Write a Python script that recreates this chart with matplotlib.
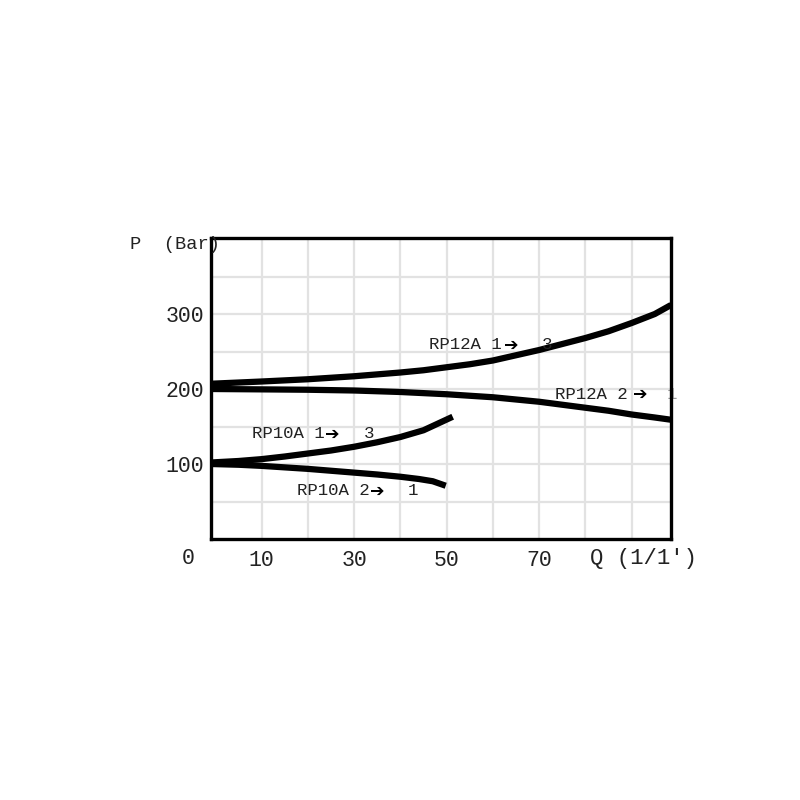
import matplotlib
matplotlib.use("Agg")
import matplotlib.pyplot as plt
import matplotlib.transforms as mtransforms

# Data
rp12a_13_x = [-1, 10, 20, 30, 40, 45, 50, 55, 60, 65, 70, 75, 80, 85, 90, 95, 98.5]
rp12a_13_y = [207, 210, 213, 217, 222, 225, 229, 233, 238, 245, 252, 260, 268, 277, 288, 300, 312]

rp12a_21_x = [-1, 10, 20, 30, 40, 50, 55, 60, 65, 70, 75, 80, 85, 90, 95, 98.5]
rp12a_21_y = [200, 199.5, 199, 198, 196, 193, 191, 189, 186, 183, 179, 175, 171, 166, 162, 159]

rp10a_13_x = [-1, 5, 10, 15, 20, 25, 30, 35, 40, 45, 51.3]
rp10a_13_y = [102, 104, 106.5, 110, 114, 118, 123, 129, 136, 145, 163]

rp10a_21_x = [-1, 5, 10, 15, 20, 25, 30, 35, 40, 44, 47, 49.8]
rp10a_21_y = [100, 99, 97.5, 95.5, 93.5, 91, 88.5, 86, 83, 80, 77, 71]

x_ticks = [10, 30, 50, 70]
x_tick_labels = ["10", "30", "50", "70"]
y_ticks = [100, 200, 300]
y_tick_labels = ["100", "200", "300"]
x_grid = [10, 20, 30, 40, 50, 60, 70, 80, 90]
y_grid = [50, 100, 150, 200, 250, 300, 350]

MONO = ["Liberation Mono", "DejaVu Sans Mono", "DejaVu Sans"]
ARROWF = ["DejaVu Sans"]
TXT = "#222222"

fig = plt.figure(figsize=(8, 8), dpi=100)
ax = fig.add_axes([211 / 800, 1 - 539 / 800, 460 / 800, (539 - 237.5) / 800])
ax.set_xlim(-0.95, 98.5)
ax.set_ylim(0, 402)

for gx in x_grid:
    ax.axvline(gx, color="#e2e2e2", lw=1.6, zorder=0)
for gy in y_grid:
    ax.axhline(gy, color="#e2e2e2", lw=1.6, zorder=0)

lw = 4.5
for xs, ys in [(rp12a_13_x, rp12a_13_y), (rp12a_21_x, rp12a_21_y),
               (rp10a_13_x, rp10a_13_y), (rp10a_21_x, rp10a_21_y)]:
    ax.plot(xs, ys, color="black", lw=lw, solid_capstyle="butt",
            solid_joinstyle="round", zorder=3)

for s in ax.spines.values():
    s.set_linewidth(2.4)
    s.set_color("black")
    s.set_zorder(5)

tfs = 15.5
ax.set_xticks(x_ticks)
ax.set_xticklabels(x_tick_labels, family=MONO, fontsize=tfs, color=TXT)
ax.set_yticks(y_ticks)
ax.set_yticklabels(y_tick_labels, family=MONO, fontsize=tfs, color=TXT)
ax.tick_params(length=0, pad=5)
ax.tick_params(axis="x", pad=8)

trans = mtransforms.blended_transform_factory(ax.transData, ax.transAxes)
ax.text(-5.9, -0.065, "0", transform=trans, family=MONO, fontsize=tfs,
        color=TXT, ha="center", va="center", clip_on=False)
ax.text(80.9, -0.065, "Q (1/1')", transform=trans, family=MONO, fontsize=16,
        color=TXT, ha="left", va="center", clip_on=False)

ax.text(-18.4, 393, "P  (Bar)", family=MONO, fontsize=13.5, color=TXT,
        ha="left", va="center", clip_on=False, zorder=6)

fs = 12.5
def label(x0, y0, name, xa, xn, num, numcolor=TXT, numz=4):
    ax.text(x0, y0, name, family=MONO, fontsize=fs, color=TXT, ha="left",
            va="center", zorder=4, clip_on=False)
    ax.text(xa, y0, "\u2794", family=ARROWF, fontsize=fs, color="black",
            ha="center", va="center", zorder=4, clip_on=False)
    ax.text(xn, y0, num, family=MONO, fontsize=fs, color=numcolor,
            ha="center", va="center", zorder=numz, clip_on=False)

label(46.1, 259, "RP12A 1", 64.0, 71.6, "3")
label(73.5, 193, "RP12A 2", 91.9, 98.8, "1", numcolor="#999999")
label(7.9, 140, "RP10A 1", 25.2, 33.3, "3")
label(17.6, 64, "RP10A 2", 34.9, 42.7, "1")

fig.savefig("out.png", dpi=100, facecolor="white")
